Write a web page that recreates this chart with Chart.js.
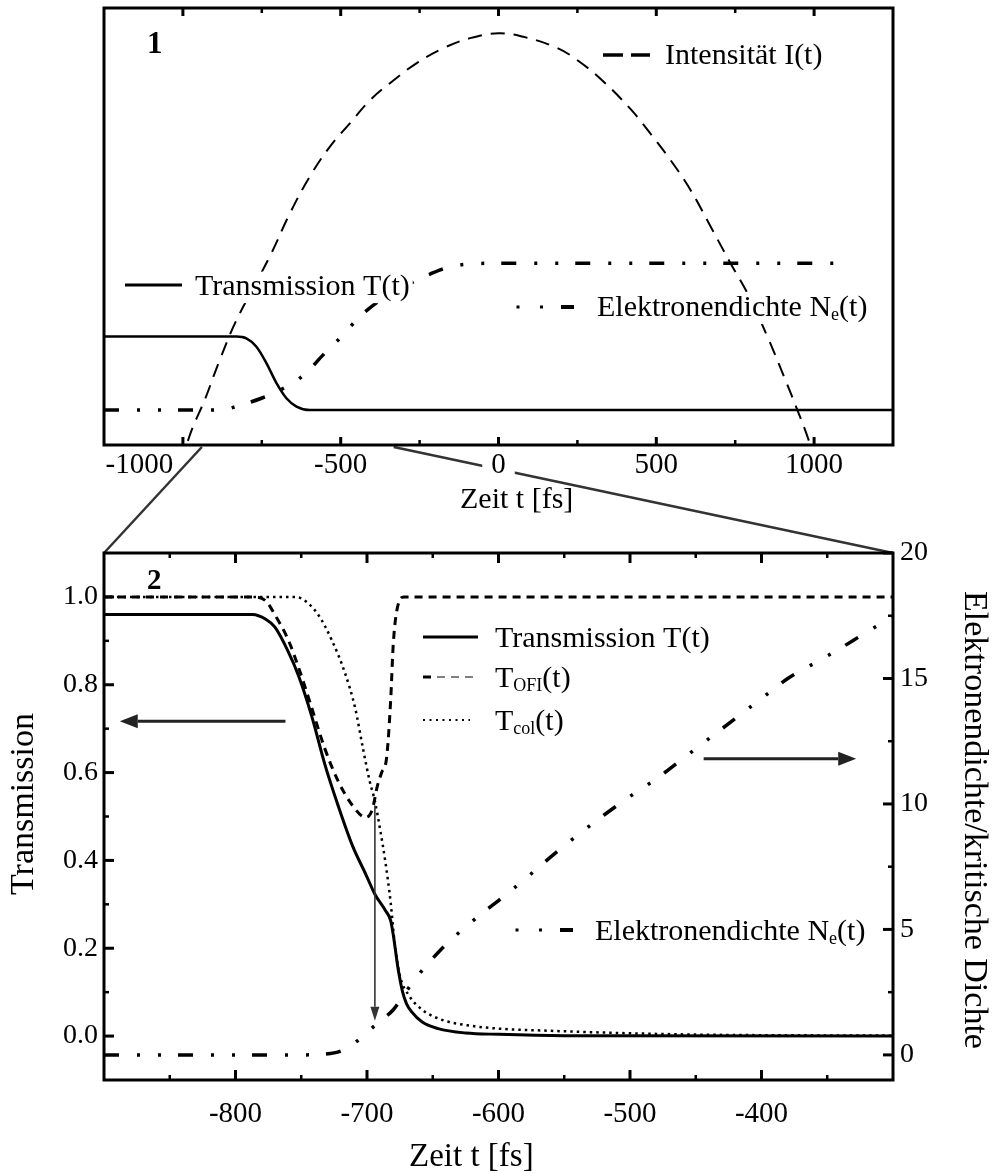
<!DOCTYPE html>
<html lang="de">
<head>
<meta charset="utf-8">
<title>Transmission und Elektronendichte</title>
<script src="https://cdn.jsdelivr.net/npm/chart.js@4.4.1/dist/chart.umd.min.js"></script>
<style>
  html, body { margin: 0; padding: 0; background: #fff; }
  #page { position: relative; width: 993px; height: 1173px; overflow: hidden; background: #fff; }
  #page canvas { position: absolute; left: 0; display: block; }
  #links { top: 0; z-index: 0; }
  #overview { top: 0; z-index: 1; }
  #detail { top: 520px; z-index: 1; }
</style>
</head>
<body>
<div id="page">
  <canvas id="links" width="993" height="1173"></canvas>
  <canvas id="overview" width="993" height="520"></canvas>
  <canvas id="detail" width="993" height="653"></canvas>
</div>
<script>
const SERIF = "'Liberation Serif', 'Times New Roman', serif";
Chart.defaults.font.family = SERIF;
Chart.defaults.color = '#000';

// ---------- Panel 1: whole pulse (time in fs, arbitrary units) ----------
const overviewRange = [-1250, 1250];
const overviewTicks = [-1000, -500, 0, 500, 1000];
const overviewMinorTicks = [-750, -250, 250, 750];

const intensityTime = [-1010, -989, -968, -931, -883, -830, -725, -661, -598, -534, -471, -407, -344, -259, -175, -90, 0, 79, 185, 249, 323, 418, 481, 545, 608, 672, 735, 789, 852, 905, 947, 979, 1005];
const intensity     = [-0.04, 0.0, 0.042, 0.103, 0.195, 0.286, 0.431, 0.530, 0.614, 0.683, 0.736, 0.789, 0.828, 0.874, 0.908, 0.931, 0.942, 0.934, 0.909, 0.881, 0.838, 0.769, 0.713, 0.652, 0.584, 0.500, 0.416, 0.347, 0.248, 0.156, 0.080, 0.019, -0.04];

const transTime    = [-1250, -830, -799, -767, -735, -703, -672, -640, -598, 1250];
const transmission = [0.248, 0.248, 0.244, 0.225, 0.187, 0.141, 0.107, 0.088, 0.080, 0.080];

const densTime = [-1250, -873, -841, -751, -688, -614, -551, -503, -439, -366, -290, -217, -153, 5, 1100];
const density  = [0.080, 0.080, 0.086, 0.107, 0.127, 0.162, 0.210, 0.244, 0.294, 0.336, 0.366, 0.391, 0.408, 0.416, 0.416];

// ---------- Panel 2: onset of the pulse ----------
const detailRange = [-900, -300];
const detailTicks = [-800, -700, -600, -500, -400];
const detailMinorTicks = [-850, -750, -650, -550, -450, -350];
const transAxisRange = [-0.1, 1.1];
const transAxisTicks = [0, 0.2, 0.4, 0.6, 0.8, 1.0];
const transAxisMinor = [0.1, 0.3, 0.5, 0.7, 0.9];
const densAxisRange = [-1, 20];
const densAxisTicks = [0, 5, 10, 15, 20];
const densAxisMinor = [2.5, 7.5, 12.5, 17.5];

const tTime = [-900, -787, -777, -770, -760, -752, -742, -732, -722, -711, -701, -694, -686, -682, -680, -677, -676, -673, -670, -666, -658, -646, -625, -600, -550, -300];
const tTotal = [0.96, 0.96, 0.949, 0.931, 0.876, 0.820, 0.728, 0.618, 0.525, 0.433, 0.369, 0.323, 0.286, 0.263, 0.230, 0.166, 0.147, 0.101, 0.074, 0.055, 0.032, 0.017, 0.007, 0.004, 0.001, 0.0];

const ofiTime = [-900, -787, -777, -770, -760, -752, -742, -732, -722, -711, -701, -696, -692, -689, -685, -682, -680, -676, -672, -300];
const tOfi    = [1.0, 1.0, 0.991, 0.959, 0.903, 0.839, 0.747, 0.654, 0.581, 0.525, 0.498, 0.516, 0.571, 0.599, 0.636, 0.765, 0.894, 0.986, 1.0, 1.0];

const colTime = [-900, -757, -749, -737, -727, -717, -709, -703, -698, -694, -690, -686, -682, -679, -675, -668, -658, -643, -620, -600, -560, -520, -480, -440, -300];
const tCol    = [1.0, 1.0, 0.995, 0.959, 0.903, 0.829, 0.747, 0.654, 0.581, 0.535, 0.470, 0.396, 0.304, 0.212, 0.138, 0.092, 0.060, 0.037, 0.023, 0.017, 0.012, 0.008, 0.005, 0.003, 0.001];

const neTime = [-900, -750, -735, -720, -710, -700, -690, -680, -670, -660, -650, -640, -625, -610, -600, -580, -560, -540, -520, -500, -480, -460, -440, -420, -400, -380, -360, -340, -320, -300];
const neDensity = [0, 0, 0.02, 0.15, 0.45, 0.9, 1.35, 1.8, 2.55, 3.25, 3.85, 4.4, 5.1, 5.75, 6.15, 7.0, 7.9, 8.75, 9.55, 10.3, 11.0, 11.8, 12.6, 13.4, 14.2, 15.0, 15.6, 16.2, 16.85, 17.45];

// arrows: which curve belongs to which axis, and the ionisation instant
const arrowLeftTime = [-762, -888];   const arrowLeftLevel = 0.717;
const arrowRightTime = [-444, -328];  const arrowRightLevel = 11.8;
const arrowDownTime = -694;           const arrowDownLevels = [0.525, 0.035];

// zoom connectors: section of panel 1 shown enlarged in panel 2
const linkTopTimes = [-940, -332];

// ---------- helpers ----------
const DASH_DOT_DOT = [15, 18, 3, 18, 3, 17];
const xy = (xs, ys) => xs.map((x, i) => ({ x, y: ys[i] }));
const curve = extra => Object.assign({ borderColor: '#000', pointRadius: 0, fill: false,
  cubicInterpolationMode: 'monotone', clip: 0 }, extra);
const fixTicks = values => scale => { scale.ticks = values.map(value => ({ value })); };
const hidden = { grid: { display: false, drawTicks: false }, border: { display: false } };

function richText(ctx, parts, x, y, size, weight, boxed) {
  ctx.textAlign = 'left';
  ctx.textBaseline = 'alphabetic';
  let w = 0;
  for (const p of parts) {
    const s = p.sub ? size * 0.6 : size;
    ctx.font = `${weight || 'normal'} ${s}px ${SERIF}`;
    w += ctx.measureText(p.t).width;
  }
  if (boxed) {
    ctx.save();
    ctx.fillStyle = '#fff';
    ctx.fillRect(x - 3, y - size * 0.78, w + 6, size * 1.05);
    ctx.restore();
  }
  for (const p of parts) {
    const s = p.sub ? size * 0.6 : size;
    ctx.font = `${weight || 'normal'} ${s}px ${SERIF}`;
    ctx.fillText(p.t, x, y + (p.sub ? size * 0.12 : 0));
    x += ctx.measureText(p.t).width;
  }
  return w;
}

function arrow(ctx, x0, y0, x1, y1, width, headLen, headHalf, color) {
  const a = Math.atan2(y1 - y0, x1 - x0);
  const bx = x1 - headLen * Math.cos(a), by = y1 - headLen * Math.sin(a);
  ctx.strokeStyle = color; ctx.fillStyle = color; ctx.lineWidth = width; ctx.setLineDash([]);
  ctx.beginPath(); ctx.moveTo(x0, y0); ctx.lineTo(bx, by); ctx.stroke();
  ctx.beginPath(); ctx.moveTo(x1, y1);
  ctx.lineTo(bx + headHalf * Math.sin(a), by - headHalf * Math.cos(a));
  ctx.lineTo(bx - headHalf * Math.sin(a), by + headHalf * Math.cos(a));
  ctx.closePath(); ctx.fill();
}

// frame around the plot area plus inward-pointing tick marks
const framePlugin = {
  id: 'frame',
  afterDatasetsDraw(chart, args, o) {
    const { ctx, chartArea: a } = chart;
    ctx.save();
    ctx.strokeStyle = '#000';
    ctx.setLineDash([]);
    for (const spec of o.marks) {
      const s = chart.scales[spec.scale];
      const sets = [[spec.major, o.major, 3], [spec.minor, o.minor, 2.5]];
      for (const [vals, len, lw] of sets) {
        ctx.lineWidth = lw;
        for (const v of vals) {
          const p = s.getPixelForValue(v);
          ctx.beginPath();
          for (const side of spec.sides) {
            if (side === 'bottom') { ctx.moveTo(p, a.bottom); ctx.lineTo(p, a.bottom - len); }
            if (side === 'top') { ctx.moveTo(p, a.top); ctx.lineTo(p, a.top + len); }
            if (side === 'left') { ctx.moveTo(a.left, p); ctx.lineTo(a.left + len, p); }
            if (side === 'right') { ctx.moveTo(a.right, p); ctx.lineTo(a.right - len, p); }
          }
          ctx.stroke();
        }
      }
    }
    ctx.lineWidth = 3;
    ctx.strokeRect(a.left, a.top, a.right - a.left, a.bottom - a.top);
    ctx.restore();
  }
};

// legend entries, panel numbers and axis titles
const notesPlugin = {
  id: 'notes',
  afterDraw(chart, args, o) {
    const ctx = chart.ctx;
    const dy = o.offsetY || 0;
    ctx.save();
    ctx.fillStyle = '#000';
    for (const it of o.items) {
      const y = it.y - dy;
      if (it.kind === 'text') {
        if (it.rotate) {
          ctx.save();
          ctx.translate(it.x, y);
          ctx.rotate(it.rotate);
          ctx.font = `${it.size}px ${SERIF}`;
          ctx.textAlign = 'center';
          ctx.textBaseline = 'middle';
          ctx.fillText(it.parts[0].t, 0, 0);
          ctx.restore();
        } else {
          richText(ctx, it.parts, it.x, y, it.size, it.weight, it.boxed);
        }
      } else if (it.kind === 'line') {
        ctx.strokeStyle = it.color || '#000';
        ctx.lineWidth = it.width;
        ctx.setLineDash(it.dash || []);
        ctx.beginPath(); ctx.moveTo(it.x0, y); ctx.lineTo(it.x1, y); ctx.stroke();
        ctx.setLineDash([]);
      } else if (it.kind === 'dotdash') {
        ctx.fillRect(it.x0 - 1.5, y - 1.5, 3, 3);
        ctx.fillRect(it.x0 + 22, y - 1.5, 3, 3);
        ctx.fillRect(it.x0 + 43, y - 2, 13, 4);
      }
    }
    ctx.restore();
  }
};

// arrows in panel 2, placed through the chart scales
const arrowPlugin = {
  id: 'arrows',
  afterDatasetsDraw(chart) {
    const { ctx, scales: { x, y, y2 } } = chart;
    ctx.save();
    arrow(ctx, x.getPixelForValue(arrowLeftTime[0]), y.getPixelForValue(arrowLeftLevel),
          x.getPixelForValue(arrowLeftTime[1]), y.getPixelForValue(arrowLeftLevel), 3, 18, 7, '#222');
    arrow(ctx, x.getPixelForValue(arrowRightTime[0]), y2.getPixelForValue(arrowRightLevel),
          x.getPixelForValue(arrowRightTime[1]), y2.getPixelForValue(arrowRightLevel), 3, 18, 7, '#222');
    arrow(ctx, x.getPixelForValue(arrowDownTime), y.getPixelForValue(arrowDownLevels[0]),
          x.getPixelForValue(arrowDownTime), y.getPixelForValue(arrowDownLevels[1]), 1.6, 14, 4.5, '#333');
    ctx.restore();
  }
};

const baseOptions = {
  responsive: false, animation: false, events: [],
  plugins: { legend: { display: false }, tooltip: { enabled: false } }
};

// the leftmost overview label sits left of its tick, clear of the connector
const overviewLabel = v => (v === overviewTicks[0] ? String(v) + ' '.repeat(12) : String(v));

// ---------- Panel 1 ----------
const overview = new Chart(document.getElementById('overview'), {
  type: 'line',
  data: { datasets: [
    curve({ label: 'Intensität I(t)', data: xy(intensityTime, intensity), borderWidth: 2, borderDash: [14, 9],
            cubicInterpolationMode: 'default', tension: 0.4 }),
    curve({ label: 'Transmission T(t)', data: xy(transTime, transmission), borderWidth: 2.5 }),
    curve({ label: 'Elektronendichte Ne(t)', data: xy(densTime, density), borderWidth: 3.5, borderDash: DASH_DOT_DOT })
  ] },
  options: Object.assign({}, baseOptions, {
    layout: { padding: { left: 104, right: 100, top: 8, bottom: 0 } },
    plugins: Object.assign({}, baseOptions.plugins, {
      frame: { major: 8, minor: 5, marks: [
        { scale: 'x', major: overviewTicks, minor: overviewMinorTicks, sides: ['bottom', 'top'] }
      ] },
      notes: { items: [
        { kind: 'text', parts: [{ t: '1' }], x: 147, y: 53, size: 31, weight: 'bold' },
        { kind: 'line', x0: 603, x1: 623, y: 55, width: 3.5 },
        { kind: 'line', x0: 631, x1: 650, y: 55, width: 3.5 },
        { kind: 'text', parts: [{ t: 'Intensität I(t)' }], x: 665, y: 64, size: 30, boxed: true },
        { kind: 'line', x0: 125, x1: 182, y: 285, width: 3 },
        { kind: 'text', parts: [{ t: 'Transmission T(t)' }], x: 195, y: 295, size: 30, boxed: true },
        { kind: 'dotdash', x0: 518, y: 307 },
        { kind: 'text', parts: [{ t: 'Elektronendichte N' }, { t: 'e', sub: true }, { t: '(t)' }], x: 597, y: 316, size: 30, boxed: true },
        { kind: 'text', parts: [{ t: 'Zeit t [fs]' }], x: 460, y: 508, size: 30 }
      ] }
    }),
    scales: {
      x: Object.assign({ type: 'linear', position: 'bottom', min: overviewRange[0], max: overviewRange[1],
        afterBuildTicks: fixTicks(overviewTicks), afterFit: s => { s.height = 75; },
        ticks: { font: { size: 29 }, padding: 3, maxRotation: 0, autoSkip: false, callback: overviewLabel,
                 showLabelBackdrop: c => c.tick && c.tick.value === 0,
                 backdropColor: '#fff', backdropPadding: { x: 9, y: 0 } } }, hidden),
      y: { display: false, min: 0, max: 1 }
    }
  }),
  plugins: [framePlugin, notesPlugin]
});

// ---------- Panel 2 ----------
const detail = new Chart(document.getElementById('detail'), {
  type: 'line',
  data: { datasets: [
    curve({ label: 'Transmission T(t)', data: xy(tTime, tTotal), borderWidth: 3, yAxisID: 'y' }),
    curve({ label: 'TOFI(t)', data: xy(ofiTime, tOfi), borderWidth: 3, borderDash: [8, 6], yAxisID: 'y' }),
    curve({ label: 'Tcol(t)', data: xy(colTime, tCol), borderWidth: 2.5, borderDash: [2.5, 4], yAxisID: 'y' }),
    curve({ label: 'Elektronendichte Ne(t)', data: xy(neTime, neDensity), borderWidth: 3.5, borderDash: DASH_DOT_DOT, yAxisID: 'y2' })
  ] },
  options: Object.assign({}, baseOptions, {
    layout: { padding: { left: 0, right: 0, top: 33, bottom: 0 } },
    plugins: Object.assign({}, baseOptions.plugins, {
      frame: { major: 10, minor: 5, marks: [
        { scale: 'x', major: detailTicks, minor: detailMinorTicks, sides: ['bottom', 'top'] },
        { scale: 'y', major: transAxisTicks, minor: transAxisMinor, sides: ['left'] },
        { scale: 'y2', major: densAxisTicks, minor: densAxisMinor, sides: ['right'] }
      ] },
      notes: { offsetY: 520, items: [
        { kind: 'text', parts: [{ t: '2' }], x: 147, y: 589, size: 29, weight: 'bold' },
        { kind: 'line', x0: 423, x1: 478, y: 637, width: 3 },
        { kind: 'text', parts: [{ t: 'Transmission T(t)' }], x: 495, y: 647, size: 30, boxed: true },
        { kind: 'line', x0: 423, x1: 431, y: 677, width: 3 },
        { kind: 'line', x0: 437, x1: 478, y: 677, width: 1.5, dash: [8, 6], color: '#555' },
        { kind: 'text', parts: [{ t: 'T' }, { t: 'OFI', sub: true }, { t: '(t)' }], x: 495, y: 687, size: 30, boxed: true },
        { kind: 'line', x0: 423, x1: 470, y: 720, width: 2.2, dash: [2, 4.5] },
        { kind: 'text', parts: [{ t: 'T' }, { t: 'col', sub: true }, { t: '(t)' }], x: 495, y: 730, size: 30, boxed: true },
        { kind: 'dotdash', x0: 517, y: 930 },
        { kind: 'text', parts: [{ t: 'Elektronendichte N' }, { t: 'e', sub: true }, { t: '(t)' }], x: 595, y: 940, size: 30, boxed: true },
        { kind: 'text', parts: [{ t: 'Zeit t [fs]' }], x: 409, y: 1166, size: 33 },
        { kind: 'text', parts: [{ t: 'Transmission' }], x: 24, y: 804, size: 34, rotate: -Math.PI / 2 },
        { kind: 'text', parts: [{ t: 'Elektronendichte/kritische Dichte' }], x: 974, y: 820, size: 34, rotate: Math.PI / 2 }
      ] }
    }),
    scales: {
      x: Object.assign({ type: 'linear', position: 'bottom', min: detailRange[0], max: detailRange[1],
        afterBuildTicks: fixTicks(detailTicks), afterFit: s => { s.height = 93; },
        ticks: { font: { size: 29 }, padding: 17, maxRotation: 0, autoSkip: false, callback: v => String(v) } }, hidden),
      y: Object.assign({ type: 'linear', position: 'left', min: transAxisRange[0], max: transAxisRange[1],
        afterBuildTicks: fixTicks(transAxisTicks), afterFit: s => { s.width = 104; },
        ticks: { font: { size: 28 }, padding: 6, autoSkip: false, callback: v => v.toFixed(1) } }, hidden),
      y2: Object.assign({ type: 'linear', position: 'right', min: densAxisRange[0], max: densAxisRange[1],
        afterBuildTicks: fixTicks(densAxisTicks), afterFit: s => { s.width = 100; },
        ticks: { font: { size: 28 }, padding: 7, autoSkip: false, callback: v => String(v) } }, hidden)
    }
  }),
  plugins: [framePlugin, notesPlugin, arrowPlugin]
});

// ---------- connectors between the two panels ----------
(function drawLinks() {
  const ctx = document.getElementById('links').getContext('2d');
  const top = overview.chartArea, bot = detail.chartArea;
  const detailTop = 520;
  const sx = overview.scales.x, dx = detail.scales.x;
  ctx.strokeStyle = '#333';
  ctx.lineWidth = 2.5;
  for (let i = 0; i < 2; i++) {
    ctx.beginPath();
    ctx.moveTo(sx.getPixelForValue(linkTopTimes[i]), top.bottom + 2);
    ctx.lineTo(dx.getPixelForValue(detailRange[i]), detailTop + bot.top);
    ctx.stroke();
  }
})();
</script>
</body>
</html>
